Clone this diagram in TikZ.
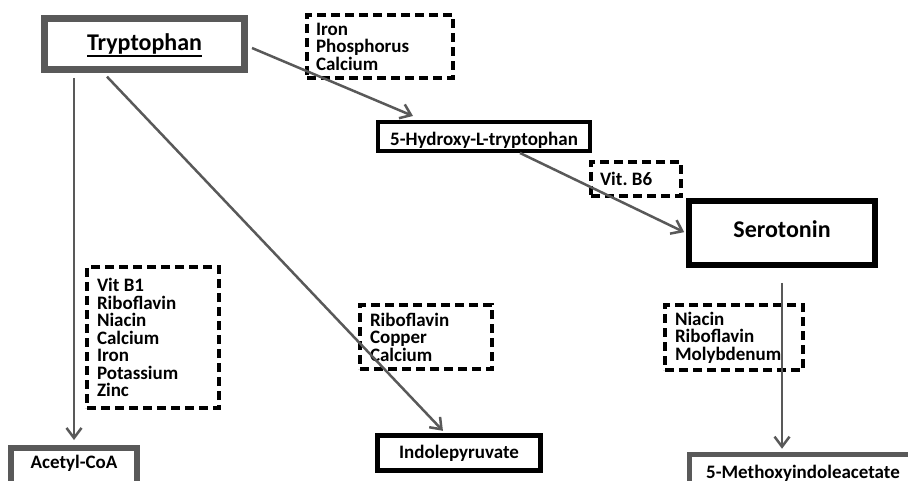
\documentclass[tikz,border=0pt]{standalone}
\usepackage{fontspec}
\setmainfont{Carlito}
\usepackage{xcolor}
\usepackage{tikz}
\usetikzlibrary{
    shapes,
    positioning,
    arrows.meta
}
\frenchspacing
\definecolor{linegray}{HTML}{595959}
\newcommand{\listfont}{\fontsize{19}{17.5}\selectfont\bfseries\lineskiplimit=-30pt\relax}
\newcommand{\titlefont}{\fontsize{24}{28}\selectfont\bfseries}
\newcommand{\ulword}[1]{\setbox0=\hbox{#1}\rlap{\rule[-6pt]{\wd0}{1.8pt}}\box0}
\tikzset{
  basic/.style = {
      draw,
      rectangle,
      inner sep=0pt,
      font=\listfont,
      align=center
  },
  source/.style = {
      basic,
      draw=linegray,
      line width=7pt,
      font=\titlefont
  },
  product/.style = {
      basic,
      draw=black,
      line width=5pt
  },
  endbox/.style = {
      basic,
      draw=linegray,
      line width=6pt
  },
  cofactor/.style = {
      basic,
      line width=4pt,
      dash pattern=on 9pt off 5pt,
      align=flush left
  },
  pathway/.style = {
      draw=linegray,
      line width=2.5pt,
      -{Straight Barb[length=10pt,width=15pt]}
  }
}

\begin{document}
\begin{tikzpicture}[x=1pt, y=-1pt]
        \useasboundingbox (0,0) rectangle (908,481);
        \clip (0,0) rectangle (908,481);
        % Compounds
        \node[source, minimum width=200pt, minimum height=51pt, text height=17pt, text depth=3pt] (trp) at (144.5,44) {\ulword{Tryptophan}};
        \node[product, line width=4pt, minimum width=212pt, minimum height=29pt, text height=19pt, text depth=0pt] (hydroxy) at (484,136.5) {5-Hydroxy-L-tryptophan};
        \node[product, line width=6pt, font=\titlefont, minimum width=186pt, minimum height=64pt, text height=17pt, text depth=8pt] (sero) at (782,233) {Serotonin};
        \node[product, minimum width=163pt, minimum height=35pt] (indole) at (459,453) {Indolepyruvate};
        \node[endbox, minimum width=126pt, minimum height=44pt, text height=14pt, text depth=18pt] (acetyl) at (74,470) {Acetyl-CoA};
        \node[endbox, line width=5pt, minimum width=227pt, minimum height=45.5pt, text height=14pt, text depth=12pt] (meth) at (803,477) {5-Methoxyindoleacetate};
        % Cofactors
        \node[cofactor, minimum width=146pt, minimum height=63pt, text width=128pt] (iron) at (380,46.5) {Iron\\Phosphorus\\Calcium};
        \node[cofactor, minimum width=90pt, minimum height=34pt, text width=72pt] (vitb6) at (636,179) {Vit. B6};
        \node[cofactor, minimum width=132pt, minimum height=141pt, text width=112pt] (vitb1) at (153,337.5) {Vit B1\\Riboflavin\\Niacin\\Calcium\\Iron\\Potassium\\Zinc};
        \node[cofactor, minimum width=132pt, minimum height=64pt, text width=112pt] (ribo) at (426,337) {Riboflavin\\Copper\\Calcium};
        \node[cofactor, minimum width=138pt, minimum height=65pt, text width=118pt] (niacin) at (734,337.5) {Niacin\\Riboflavin\\Molybdenum};
        % Edges
        \path[pathway] ([xshift=4pt, yshift=-4pt]trp.east) -- ([xshift=-71pt, yshift=4pt]hydroxy.north);
        \path[pathway, shorten <=5pt, shorten >=5pt] (acetyl.north |- trp.south) -- (acetyl.north);
        \path[pathway, shorten <=5pt, shorten >=3pt] ([xshift=-41pt]trp.south) -- ([xshift=-14pt]indole.north);
        \path[pathway, shorten >=2pt] ([xshift=36pt]hydroxy.south) -- (sero.west);
        \path[pathway, shorten <=15pt, shorten >=3pt] (sero.south) -- (sero.south |- meth.north);
    \end{tikzpicture}
\end{document}
